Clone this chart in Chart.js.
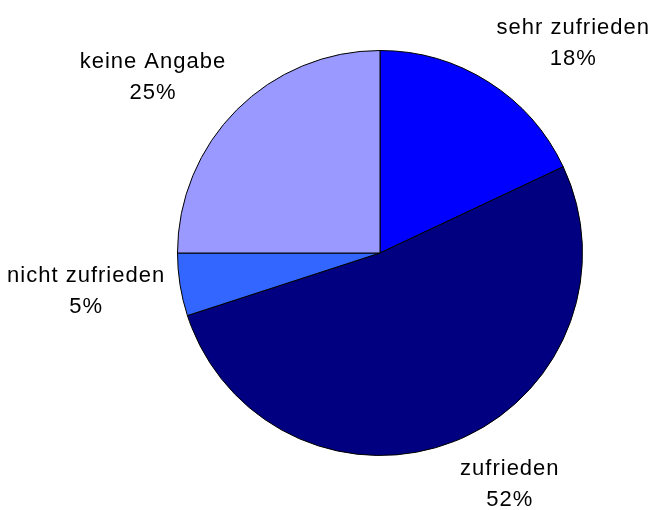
<!DOCTYPE html>
<html>
<head>
<meta charset="utf-8">
<script src="https://cdn.jsdelivr.net/npm/chart.js@4"></script>
<style>
  html, body { margin: 0; padding: 0; background: #fff; }
  #wrap { width: 665px; height: 510px; }
</style>
</head>
<body>
<div id="wrap"><canvas id="pie" width="665" height="510"></canvas></div>
<script>
// Zufriedenheit, Anteile in Prozent
const labels = ['sehr zufrieden', 'zufrieden', 'nicht zufrieden', 'keine Angabe'];
const values = [18, 52, 5, 25];
const colors = ['#0000FF', '#000080', '#3366FF', '#9999FF'];

// draws the "name / xx%" labels outside the slices, Excel style
const outsideLabels = {
  id: 'outsideLabels',
  afterDraw(chart) {
    const ctx = chart.ctx;
    const meta = chart.getDatasetMeta(0);
    ctx.save();
    ctx.font = '22px "Liberation Sans", Arial, sans-serif';
    ctx.letterSpacing = '1px';
    ctx.fillStyle = '#000';
    ctx.textAlign = 'center';
    ctx.textBaseline = 'middle';
    const lineH = 31;
    meta.data.forEach((arc, i) => {
      const mid = (arc.startAngle + arc.endAngle) / 2;
      const dx = Math.cos(mid), dy = Math.sin(mid);
      const r = arc.outerRadius + 15;
      const px = arc.x + dx * r, py = arc.y + dy * r;
      const lines = [labels[i], values[i] + '%'];
      const w = Math.max(...lines.map(l => ctx.measureText(l).width));
      const h = lineH * 2;
      const cx = px + Math.sign(dx) * w / 2;
      const cy = py + dy * h / 2;
      ctx.fillText(lines[0], cx, cy - lineH / 2);
      ctx.fillText(lines[1], cx, cy + lineH / 2);
    });
    ctx.restore();
  }
};

new Chart(document.getElementById('pie'), {
  type: 'pie',
  data: {
    labels: labels,
    datasets: [{
      data: values,
      backgroundColor: colors,
      borderColor: '#000',
      borderWidth: 1
    }]
  },
  options: {
    responsive: false,
    animation: false,
    layout: { padding: { left: 177, right: 82, top: 50, bottom: 54 } },
    plugins: {
      legend: { display: false },
      tooltip: { enabled: false }
    }
  },
  plugins: [outsideLabels]
});
</script>
</body>
</html>
